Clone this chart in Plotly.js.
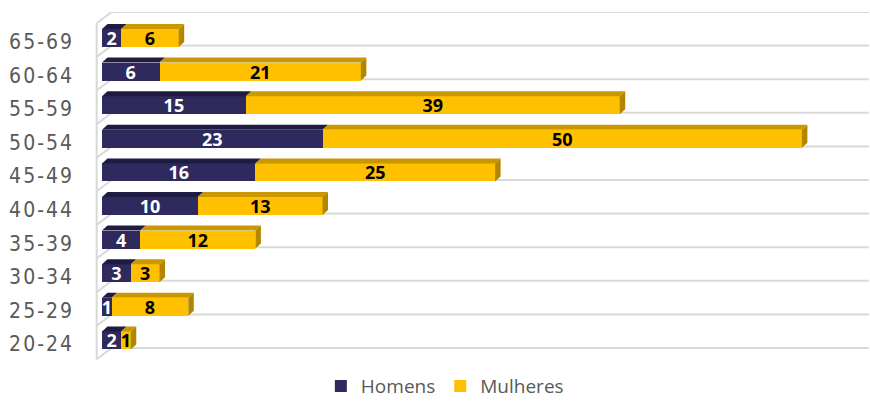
<!DOCTYPE html>
<html>
<head>
<meta charset="utf-8">
<script src="https://cdn.plot.ly/plotly-3.0.1.min.js"></script>
<style>
  html, body { margin: 0; padding: 0; background: #fff; }
  #chart { width: 870px; height: 402px; }
</style>
</head>
<body>
<div id="chart"></div>
<script>
// ---- Data (bottom to top) ----
const categories = ["20-24", "25-29", "30-34", "35-39", "40-44", "45-49", "50-54", "55-59", "60-64", "65-69"];
const homens   = [2, 1, 3, 4, 10, 16, 23, 15, 6, 2];
const mulheres = [1, 8, 3, 12, 13, 25, 50, 39, 21, 6];
const seriesNames = ["Homens", "Mulheres"];

// ---- Style ----
const NAVY = "#2E2A5D", NAVY_TOP = "#1F1C44";
const GOLD = "#FFC000", GOLD_TOP = "#C99700", GOLD_SIDE = "#B38600";
const GRID = "#D9D9D9";

const pos = categories.map((c, i) => i);
const BAR_OFF = -0.162, BAR_W = 0.536;   // bar front face relative to category position
const DX = 0.574, DZ = 0.149;             // 3-D depth offset (x units, y units)
const GRID_OFF = -0.12;                   // gridline offset from category position
const WALL_X = -0.553, BACK_X = 1.01, WALL_DY = 0.336;

// ---- 3-D faces (built from the data) ----
function faces(kind) {
  const xs = [], ys = [];
  pos.forEach((p, i) => {
    const h = homens[i], m = mulheres[i];
    const yt = p + BAR_OFF + BAR_W, yb = p + BAR_OFF;
    let pts;
    if (kind === "hTop") pts = [[0, yt], [h, yt], [h + DX, yt + DZ], [DX, yt + DZ]];
    if (kind === "mTop") pts = [[h, yt], [h + m, yt], [h + m + DX, yt + DZ], [h + DX, yt + DZ]];
    if (kind === "mSide") pts = [[h + m, yb], [h + m, yt], [h + m + DX, yt + DZ], [h + m + DX, yb + DZ]];
    pts.forEach(q => { xs.push(q[0]); ys.push(q[1]); });
    xs.push(pts[0][0]); ys.push(pts[0][1]);
    xs.push(null); ys.push(null);
  });
  return {xs, ys};
}
function faceTrace(kind, color) {
  const f = faces(kind);
  return {
    type: "scatter", x: f.xs, y: f.ys, mode: "lines", fill: "toself",
    fillcolor: color, line: {width: 0, color: color},
    hoverinfo: "skip", showlegend: false
  };
}

const textFont = {family: "Open Sans, Lato, sans-serif", size: 18, weight: 700};

const traces = [
  {
    type: "bar", orientation: "h", name: seriesNames[0],
    y: pos, x: homens, offset: BAR_OFF, width: BAR_W,
    marker: {color: NAVY, line: {width: 0}},
    text: homens.map(String), textposition: "inside", insidetextanchor: "middle",
    textangle: 0, constraintext: "none",
    insidetextfont: Object.assign({}, textFont, {color: "#FFFFFF"}),
    hoverinfo: "skip"
  },
  {
    type: "bar", orientation: "h", name: seriesNames[1],
    y: pos, x: mulheres, offset: BAR_OFF, width: BAR_W,
    marker: {color: GOLD, line: {width: 0}},
    text: mulheres.map(String), textposition: "inside", insidetextanchor: "middle",
    textangle: 0, constraintext: "none",
    insidetextfont: Object.assign({}, textFont, {color: "#000000"}),
    hoverinfo: "skip"
  },
  faceTrace("hTop", NAVY_TOP),
  faceTrace("mTop", GOLD_TOP),
  faceTrace("mSide", GOLD_SIDE)
];

// ---- Gridlines on back wall + side wall (from category count) ----
const shapes = [];
for (let k = 0; k <= categories.length; k++) {
  const g = k + GRID_OFF;
  shapes.push({type: "line", layer: "below", xref: "x", yref: "y",
    x0: BACK_X, x1: 80, y0: g, y1: g, line: {color: GRID, width: 2}});
  shapes.push({type: "line", layer: "below", xref: "x", yref: "y",
    x0: WALL_X, x1: BACK_X, y0: g - WALL_DY, y1: g, line: {color: GRID, width: 2}});
}
shapes.push({type: "line", layer: "below", xref: "x", yref: "y",
  x0: WALL_X, x1: WALL_X, y0: GRID_OFF - WALL_DY, y1: categories.length + GRID_OFF - WALL_DY,
  line: {color: GRID, width: 2}});

const layout = {
  width: 870, height: 402,
  margin: {l: 95, r: 1, t: 12, b: 41, autoexpand: false},
  paper_bgcolor: "#FFFFFF", plot_bgcolor: "rgba(0,0,0,0)",
  barmode: "stack",
  showlegend: true,
  xaxis: {range: [-0.73, 80], visible: false, fixedrange: true},
  yaxis: {
    range: [-0.507, 9.88], tickmode: "array", tickvals: pos, ticktext: categories,
    showgrid: false, zeroline: false, showline: false, ticks: "",
    ticklabelstandoff: 20,
    tickfont: {family: "Liberation Sans Narrow, DejaVu Sans Condensed, sans-serif", size: 21, color: "#595959"},
    fixedrange: true
  },
  legend: {
    orientation: "h", x: 0.452, xanchor: "center", y: -0.072, yanchor: "middle",
    font: {family: "Open Sans, sans-serif", size: 19, color: "#595959"},
    traceorder: "normal", itemclick: false, itemdoubleclick: false
  },
  shapes: shapes
};

Plotly.newPlot("chart", traces, layout, {displayModeBar: false, staticPlot: true}).then(function () {
  document.querySelectorAll(".ytick text").forEach(function (t) {
    t.style.letterSpacing = "2px";
  });
});
</script>
</body>
</html>
